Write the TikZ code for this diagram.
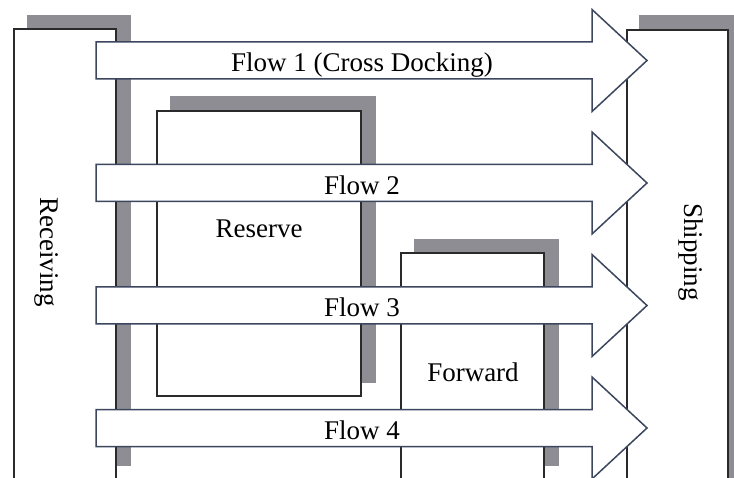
\documentclass[tikz,border=0pt]{standalone}
\usepackage{xcolor}
\usepackage{fontspec}
\setmainfont{Liberation Serif}
\usepackage{tikz}

\definecolor{shadowgray}{HTML}{8E8D93}
\definecolor{edgegray}{HTML}{2A2A2A}
\definecolor{flowedge}{HTML}{3C465E}

\begin{document}
\begin{tikzpicture}[x=1pt, y=-1pt,
    shade/.style = {fill=shadowgray, draw=none},
    area/.style = {draw=edgegray, fill=white, line width=1.2pt},
    flow/.style = {draw=flowedge, fill=white, line width=1.5pt, line join=miter},
    txt/.style = {font=\fontsize{27}{30}\selectfont, inner sep=0pt}]
  \useasboundingbox (0,0) rectangle (734,478);

  % shadows
  \fill[shade] (27,15) rectangle (131,466);
  \fill[shade] (170,96) rectangle (376,383);
  \fill[shade] (414,239) rectangle (559,466);
  \fill[shade] (639,15) rectangle (742,490);

  % areas
  \draw[area] (14,29) rectangle (116,490);
  \draw[area] (157,111) rectangle (361,396);
  \draw[area] (401,253) rectangle (544,490);
  \draw[area] (627,30) rectangle (728,490);

  \node[txt, rotate=-90] (receiving) at (47,252) {Receiving};
  \node[txt, rotate=-90] (shipping) at (691,252) {Shipping};
  \node[txt] (reserve) at (259,229) {Reserve};
  \node[txt] (forward) at (473,372) {Forward};

  % flows
  \foreach \c/\t [count=\i] in {60.5/Flow 1 (Cross Docking), 183/Flow 2, 305.5/Flow 3, 428/Flow 4} {
    \draw[flow] (96,\c-18.5) -- (592,\c-18.5) -- (592,\c-51) -- (647,\c)
      -- (592,\c+51) -- (592,\c+18.5) -- (96,\c+18.5) -- cycle;
    \node[txt, anchor=base] (flow\i) at (362,\c+11.5) {\t};
  }
\end{tikzpicture}
\end{document}
